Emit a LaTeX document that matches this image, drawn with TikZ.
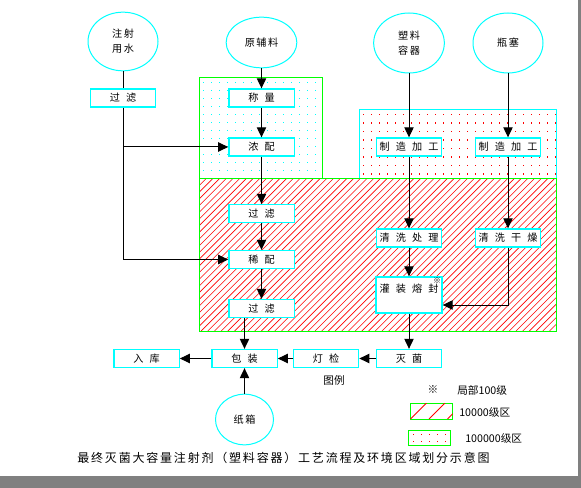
\documentclass[tikz,border=0pt]{standalone}
\usepackage{fontspec}
\usetikzlibrary{shapes.geometric,arrows.meta}

\newfontfamily\cjk{Noto Sans CJK SC}
\newfontfamily\cjkwide[LetterSpace=60]{Noto Sans CJK SC}
\newfontfamily\cjkmid[LetterSpace=15]{Noto Sans CJK SC}
\newcommand{\procfont}{\cjkwide\fontsize{7.6}{9}\selectfont}
\newcommand{\srcfont}{\cjkmid\fontsize{7.6}{11.25}\selectfont}
\newcommand{\headfont}{\cjkmid\fontsize{9}{10}\selectfont}
\newcommand{\keyfont}{\cjk\fontsize{8}{9}\selectfont}

\definecolor{aqua}{RGB}{0,255,255}
\definecolor{lime}{RGB}{0,255,0}
\definecolor{pagegray}{RGB}{128,128,128}

\tikzstyle{flow}=[draw=black,line width=0.75pt,-{Triangle[length=7.5pt,width=7pt]}]
\tikzstyle{link}=[draw=black,line width=0.75pt]

\begin{document}
\begin{tikzpicture}[x=0.75pt,y=-0.75pt]
\tikzstyle{source}=[shape=ellipse,draw=aqua,line width=0.75pt,fill=white,inner sep=0pt,align=center,font=\srcfont]
\tikzstyle{process}=[shape=rectangle,draw=aqua,line width=1pt,fill=white,minimum width=49pt,minimum height=13.5pt,inner sep=0pt,font=\procfont]
\tikzstyle{swatch}=[shape=rectangle,draw=lime,line width=0.75pt,minimum width=31.5pt,minimum height=11.5pt,inner sep=0pt]
\tikzstyle{keytext}=[anchor=west,inner sep=0pt,font=\keyfont]
\tikzstyle{hatchline}=[draw=red,line width=0.45pt]
\useasboundingbox (0,0) rectangle (581,488);
% page
\fill[pagegray] (0,0) rectangle (581,488);
\fill[white] (0,0) rectangle (578,476);
% zones: 100000 class (dots)
\foreach \x in {203,211,...,319}
  \foreach \y in {82,90,...,176}
    \fill[aqua] (\x,\y) rectangle ++(1.4,1.4);
\draw[draw=lime,line width=0.75pt] (199,78) rectangle (322,179);
\foreach \x in {363,371,...,555}
  \foreach \y in {114,122.5,...,176}
    \fill[red] (\x,\y) rectangle ++(1.4,1.4);
\draw[draw=aqua,line width=0.75pt] (359,110) rectangle (556,179);
% zones: 10000 class (hatch)
\fill[white] (199,179) rectangle (556,331);
\begin{scope}
\clip (199,179) rectangle (556,331);
\foreach \k in {0,...,77}
  \draw[hatchline] (47+\k*6.7,331) -- ++(152,-152);
\end{scope}
\draw[draw=lime,line width=0.75pt] (199,179) rectangle (556,331);
% sources
\node[source,minimum width=52.5pt,minimum height=44pt] (water) at (123,41.5) {注射\\用水};
\node[source,minimum width=53pt,minimum height=38pt] (raw) at (261.5,42.5) {原辅料};
\node[source,minimum width=53pt,minimum height=45pt] (cont) at (409,43) {塑料\\容器};
\node[source,minimum width=52.5pt,minimum height=45pt] (stop) at (508,43) {瓶塞};
\node[source,minimum width=43.5pt,minimum height=38pt] (carton) at (244.5,419.5) {纸箱};
% process steps
\node[process] (flt0) at (123,98) {过滤};
\node[process] (weigh) at (261.5,98) {称量};
\node[process] (conc) at (261.5,147) {浓配};
\node[process] (flt1) at (261.5,213.5) {过滤};
\node[process] (dil) at (261.5,259.5) {稀配};
\node[process] (flt2) at (261.5,308.5) {过滤};
\node[process] (make1) at (409,147) {制造加工};
\node[process] (make2) at (508,147) {制造加工};
\node[process] (wash1) at (409,238) {清洗处理};
\node[process] (wash2) at (508,238) {清洗干燥};
\node[process,minimum width=49.5pt,minimum height=27pt,text depth=10pt,
  label={[font=\cjk\fontsize{6}{6}\selectfont,anchor=north east,inner sep=1pt]north east:※}] (fill) at (409,295) {灌装熔封};
\node[process] (steril) at (409,358.5) {灭菌};
\node[process] (insp) at (326,358.5) {灯检};
\node[process] (pack) at (244.5,358.5) {包装};
\node[process] (store) at (146.5,358.5) {入库};
% connectors
\draw[link] (water) -- (flt0);
\draw[flow] (flt0.south) |- (dil.west);
\draw[flow] (flt0.south |- conc.west) -- (conc.west);
\draw[flow] (raw) -- (weigh);
\draw[flow] (weigh) -- (conc);
\draw[flow] (conc) -- (flt1);
\draw[flow] (flt1) -- (dil);
\draw[flow] (dil) -- (flt2);
\draw[flow] (flt2.south -| pack) -- (pack);
\draw[flow] (cont) -- (make1);
\draw[flow] (make1) -- (wash1);
\draw[flow] (wash1) -- (fill);
\draw[flow] (fill) -- (steril);
\draw[flow] (stop) -- (make2);
\draw[flow] (make2) -- (wash2);
\draw[flow] (wash2.south) |- ([yshift=-7.5pt]fill.east);
\draw[flow] (steril) -- (insp);
\draw[flow] (insp) -- (pack);
\draw[flow] (pack) -- (store);
\draw[flow] (carton) -- (pack);
% legend
\node[font=\keyfont,inner sep=0pt] (legend) at (334,380) {图例};
\node[font=\keyfont,inner sep=0pt] (star) at (433,390) {※};
\node[keytext] (key100) at (457,390) {局部100级};
\node[swatch] (hatch) at (431,411.5) {};
\begin{scope}
\clip (hatch.south west) rectangle (hatch.north east);
\foreach \k in {0,...,3}
  \draw[hatchline,line width=0.6pt] (392+\k*18.5,419) -- ++(16,-16);
\end{scope}
\node[keytext] (key10k) at (459,412) {10000级区};
\node[swatch] (dots) at (429.5,438) {};
\foreach \x in {413,421,...,447}
  \foreach \y in {434,441}
    \fill[red] (\x,\y) rectangle ++(1.4,1.4);
\node[keytext] (key100k) at (465,438) {100000级区};
% title
\node[font=\headfont,inner sep=0pt] (title) at (283.5,458) {最终灭菌大容量注射剂（塑料容器）工艺流程及环境区域划分示意图};
\end{tikzpicture}
\end{document}
